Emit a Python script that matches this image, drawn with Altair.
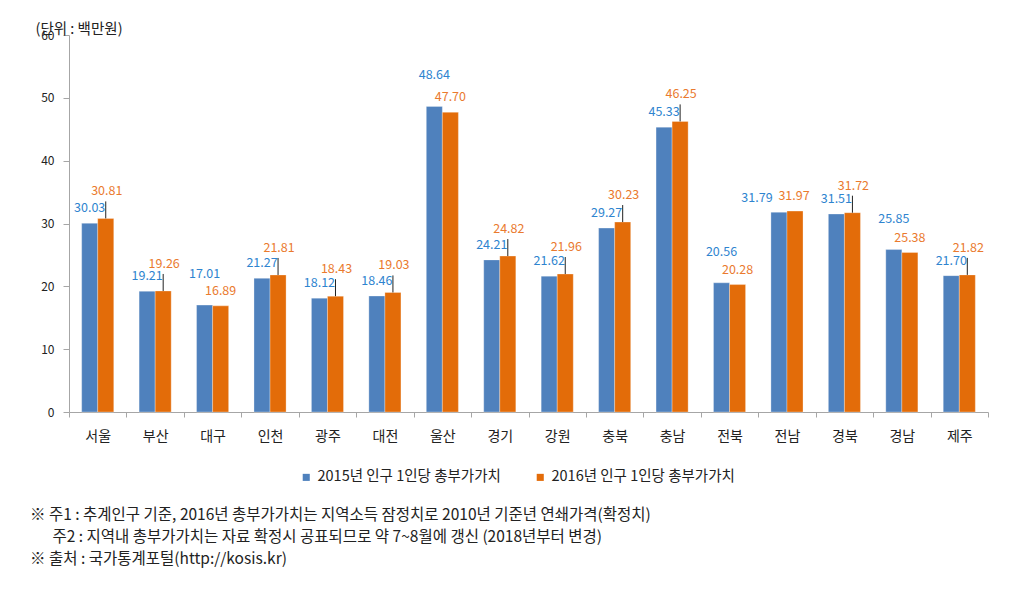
import altair as alt
import pandas as pd

regions = ["서울", "부산", "대구", "인천", "광주", "대전", "울산", "경기",
           "강원", "충북", "충남", "전북", "전남", "경북", "경남", "제주"]
v2015 = [30.03, 19.21, 17.01, 21.27, 18.12, 18.46, 48.64, 24.21,
         21.62, 29.27, 45.33, 20.56, 31.79, 31.51, 25.85, 21.70]
v2016 = [30.81, 19.26, 16.89, 21.81, 18.43, 19.03, 47.70, 24.82,
         21.96, 30.23, 46.25, 20.28, 31.97, 31.72, 25.38, 21.82]
series_names = ["2015년 인구 1인당 총부가가치", "2016년 인구 1인당 총부가가치"]
# how the two value labels of each region are arranged in the original
label_style = ["lead", "lead", "down", "lead", "lead", "lead", "down", "lead",
               "lead", "lead", "lead", "down", "even", "lead", "down", "lead"]
y_ticks = [0, 10, 20, 30, 40, 50, 60]
unit_text = "(단위 : 백만원)"
notes = [
    "※  주1 : 추계인구 기준, 2016년 총부가가치는 지역소득 잠정치로 2010년 기준년 연쇄가격(확정치)",
    "\u200b\u3000\u00a0\u00a0주2 : 지역내 총부가가치는 자료 확정시 공표되므로 약 7~8월에 갱신 (2018년부터 변경)",
    "※  출처 : 국가통계포털(http://kosis.kr)",
]

BLUE = "#4F81BD"
ORANGE = "#E36C09"
BLUE_T = "#2E84CF"
ORANGE_T = "#EA7A2E"
FONT = "Noto Sans CJK KR"

rows = []
for i, r in enumerate(regions):
    for s, vals in zip(series_names, [v2015, v2016]):
        rows.append({"region": r, "series": s, "value": vals[i], "style": label_style[i]})
df = pd.DataFrame(rows)

x = alt.X("region:N", sort=regions,
          scale=alt.Scale(paddingInner=0, paddingOuter=0),
          axis=alt.Axis(title=None, labelAngle=0, tickBand="extent", tickSize=5,
                        labelFontSize=14, labelColor="#222", labelPadding=12,
                        domainColor="#A6A6A6", tickColor="#A6A6A6", grid=False))
xo = alt.XOffset("series:N", sort=series_names,
                 scale=alt.Scale(domain=series_names, paddingInner=0, paddingOuter=0.79))
y = alt.Y("value:Q", scale=alt.Scale(domain=[0, 60], nice=False),
          axis=alt.Axis(values=y_ticks, grid=False, tickSize=6, labelPadding=9,
                        labelFontSize=12, labelColor="#222",
                        domainColor="#A6A6A6", tickColor="#A6A6A6",
                        title=unit_text, titleAngle=0, titleAlign="left",
                        titleBaseline="middle", titleX=-34, titleY=-6,
                        titleFontSize=14.5, titleFontWeight="normal", titleColor="#222"))
color = alt.Color("series:N", sort=series_names,
                  scale=alt.Scale(domain=series_names, range=[BLUE, ORANGE]),
                  legend=alt.Legend(title=None, orient="none", direction="horizontal",
                                    legendX=230, legendY=435,
                                    symbolType="square", symbolSize=50, symbolStrokeWidth=0,
                                    labelFontSize=14.5, labelColor="#222", columnPadding=32,
                                    labelLimit=0, labelOffset=4))

base = alt.Chart(df)
bars = base.mark_bar(stroke="white", strokeWidth=0.3).encode(x=x, xOffset=xo, y=y, color=color)

layers = [bars]
text_specs = [
    ("lead", 0, 0, -15), ("lead", 1, 1, -27),
    ("down", 0, 0, -31), ("down", 1, 0, -15),
    ("even", 0, -22, -14), ("even", 1, -1, -15),
]
for style, si, dx, dy in text_specs:
    layers.append(
        base.transform_filter((alt.datum.style == style) & (alt.datum.series == series_names[si]))
        .mark_text(dx=dx, dy=dy, fontSize=12.5, baseline="middle", align="center",
                   color=BLUE_T if si == 0 else ORANGE_T)
        .encode(x=x, xOffset=xo, y=y, text=alt.Text("value:Q", format=".2f"))
    )

lines = (
    base.transform_filter((alt.datum.style == "lead") & (alt.datum.series == series_names[1]))
    .mark_rule(color="#222", strokeWidth=1, y2Offset=-17)
    .encode(x=x, xOffset=xo, y=y, y2="value:Q")
)
layers.append(lines)

chart = (
    alt.layer(*layers)
    .properties(
        width=919, height=377,
        autosize=alt.AutoSizeParams(type="none"),
        padding={"left": 61, "top": 27, "right": 28, "bottom": 176},
        title=alt.TitleParams(text=notes, orient="bottom", anchor="start", fontSize=15.5,
                              fontWeight="normal", color="#222", lineHeight=22,
                              offset=24, frame="bounds", dx=-5),
    )
    .configure(font=FONT)
    .configure_view(stroke=None)
)

chart.save("out.html", embed_options={"renderer": "svg", "actions": False})
